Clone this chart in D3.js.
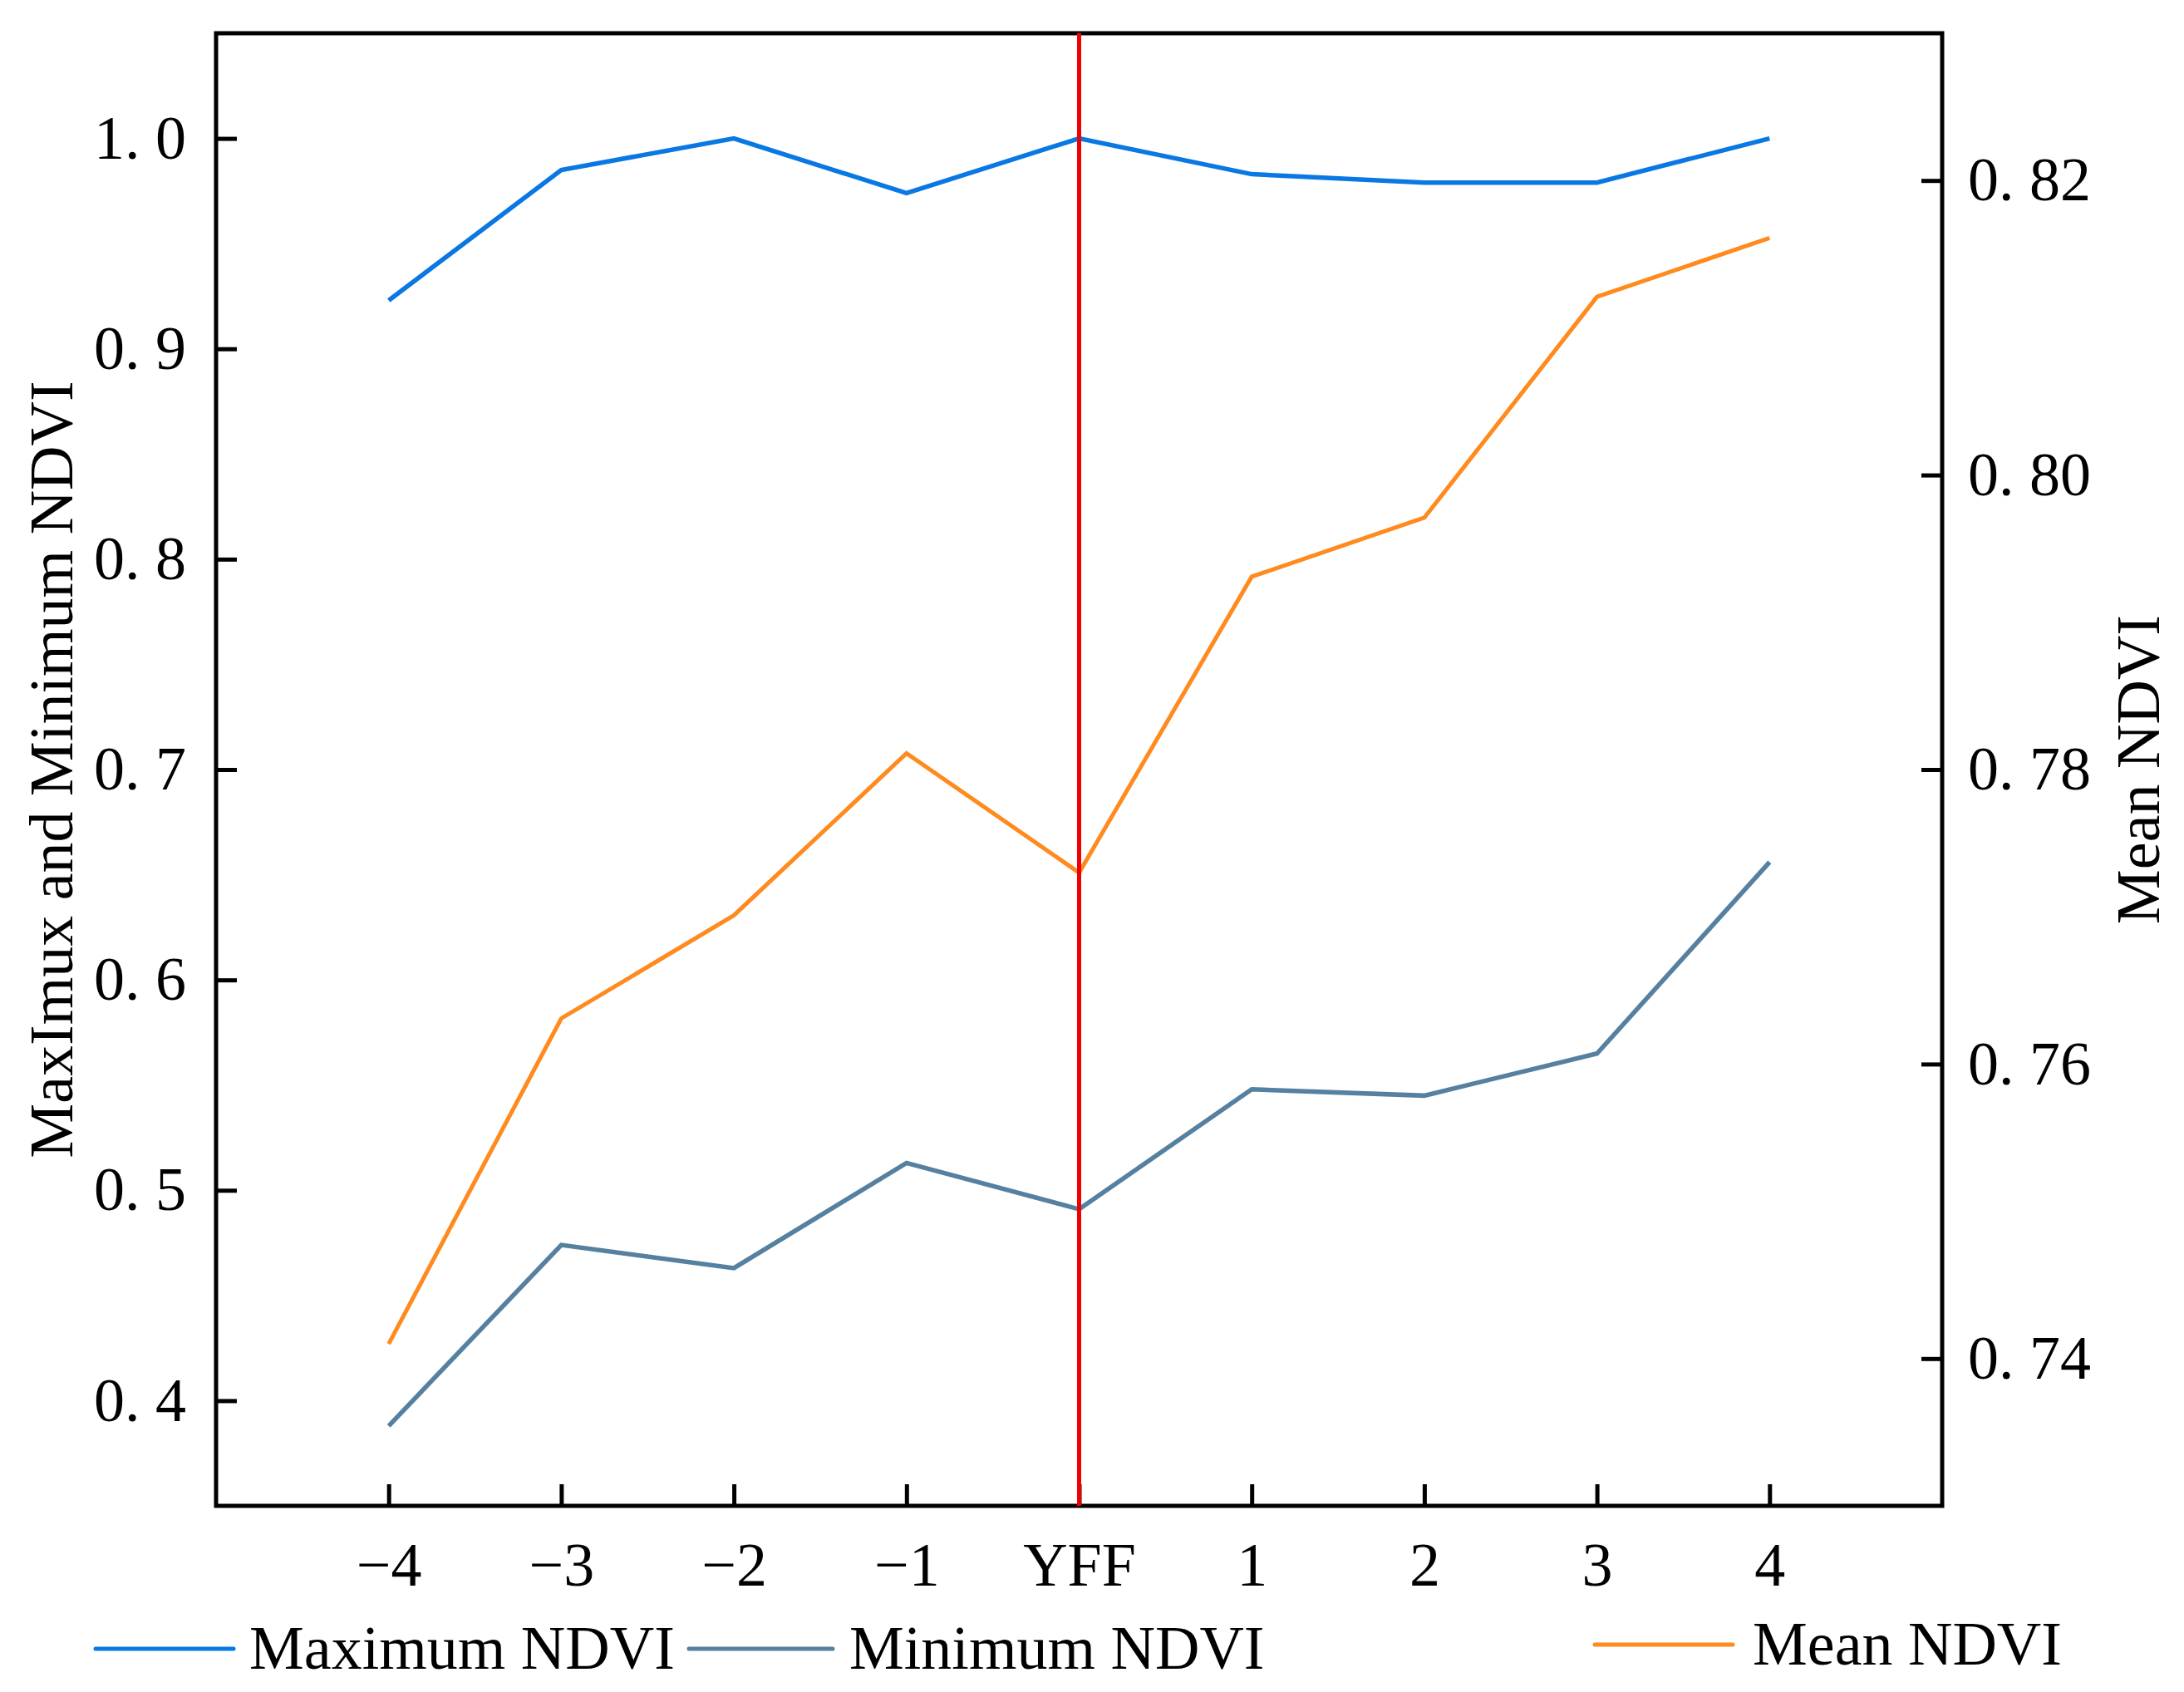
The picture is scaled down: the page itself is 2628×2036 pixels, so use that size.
<!DOCTYPE html>
<html>
<head>
<meta charset="utf-8">
<script src="https://d3js.org/d3.v7.min.js"></script>
<style>
  body { margin: 0; background: #fff; }
  text { font-family: "Liberation Serif", "Times New Roman", serif; fill: #000; }
</style>
</head>
<body>
<script>
// data
var years = [-4, -3, -2, -1, 0, 1, 2, 3, 4];
var yearLabels = ["\u22124", "\u22123", "\u22122", "\u22121", "YFF", "1", "2", "3", "4"];
var maxNdvi = [0.923, 0.985, 1.0, 0.974, 1.0, 0.983, 0.979, 0.979, 1.0];
var minNdvi = [0.388, 0.474, 0.463, 0.513, 0.491, 0.548, 0.545, 0.565, 0.656];
var meanNdvi = [0.741, 0.7631, 0.7701, 0.7811, 0.7730, 0.7931, 0.7971, 0.8121, 0.8161];
var leftTicks = [0.4, 0.5, 0.6, 0.7, 0.8, 0.9, 1.0];
var rightTicks = [0.74, 0.76, 0.78, 0.80, 0.82];
var legendNames = ["Maximum NDVI", "Minimum NDVI", "Mean NDVI"];
var colors = ["#0a78e2", "#5680a0", "#ff8a1e"];

var W = 2628, H = 2036;
var margin = {top: 40, left: 260, right: 291, bottom: 224};

var svg = d3.select("body").append("svg")
  .attr("width", W)
  .attr("height", H);

var x = d3.scaleLinear().domain([-5, 5]).range([margin.left, W - margin.right]);
var yL = d3.scaleLinear().domain([0.35, 1.05]).range([H - margin.bottom, margin.top]);
var yR = d3.scaleLinear().domain([0.73, 0.83]).range([H - margin.bottom, margin.top]);

var fs = 74;
var dotFmt = function(f) { return function(d) { return d3.format(f)(d).replace(".", ". "); }; };

// bottom axis, ticks pointing in
var xAx = d3.axisBottom(x)
  .tickValues(years)
  .tickFormat(function(d, i) { return yearLabels[i]; })
  .tickSizeInner(-26).tickSizeOuter(0).tickPadding(43);
var gx = svg.append("g")
  .attr("transform", "translate(0," + (H - margin.bottom) + ")")
  .call(xAx);

var yAxL = d3.axisLeft(yL)
  .tickValues(leftTicks)
  .tickFormat(dotFmt(".1f"))
  .tickSizeInner(-25).tickSizeOuter(0).tickPadding(36);
var gyl = svg.append("g")
  .attr("transform", "translate(" + margin.left + ",0)")
  .call(yAxL);

var yAxR = d3.axisRight(yR)
  .tickValues(rightTicks)
  .tickFormat(dotFmt(".2f"))
  .tickSizeInner(-25).tickSizeOuter(0).tickPadding(31);
var gyr = svg.append("g")
  .attr("transform", "translate(" + (W - margin.right) + ",0)")
  .call(yAxR);

[gx, gyl, gyr].forEach(function(g) {
  g.select(".domain").remove();
  g.selectAll(".tick line").attr("stroke", "#000").attr("stroke-width", 5);
  g.selectAll(".tick text")
    .style("font-family", "'Liberation Serif', 'Times New Roman', serif")
    .style("font-size", fs + "px")
    .attr("fill", "#000");
});

// frame
svg.append("rect")
  .attr("x", margin.left)
  .attr("y", margin.top)
  .attr("width", W - margin.left - margin.right)
  .attr("height", H - margin.top - margin.bottom)
  .attr("fill", "none")
  .attr("stroke", "#000")
  .attr("stroke-width", 5);

// series
var lineL = d3.line().x(function(d, i) { return x(years[i]); }).y(function(d) { return yL(d); });
var lineR = d3.line().x(function(d, i) { return x(years[i]); }).y(function(d) { return yR(d); });

svg.append("path").datum(maxNdvi).attr("d", lineL)
  .attr("fill", "none").attr("stroke", colors[0]).attr("stroke-width", 5.5);
svg.append("path").datum(minNdvi).attr("d", lineL)
  .attr("fill", "none").attr("stroke", colors[1]).attr("stroke-width", 5.5);
svg.append("path").datum(meanNdvi).attr("d", lineR)
  .attr("fill", "none").attr("stroke", colors[2]).attr("stroke-width", 5);

// red line at YFF
svg.append("line")
  .attr("x1", x(0)).attr("x2", x(0))
  .attr("y1", margin.top).attr("y2", H - margin.bottom)
  .attr("stroke", "#f00000").attr("stroke-width", 5);

// axis titles
svg.append("text")
  .attr("transform", "translate(87," + ((margin.top + H - margin.bottom) / 2) + ") rotate(-90)")
  .attr("text-anchor", "middle")
  .style("font-size", fs + "px")
  .text("MaxImux and Minimum NDVI");
svg.append("text")
  .attr("transform", "translate(2598," + ((margin.top + H - margin.bottom) / 2) + ") rotate(-90)")
  .attr("text-anchor", "middle")
  .style("font-size", fs + "px")
  .text("Mean NDVI");

// legend
var legendPos = [
  {x1: 115, x2: 281, ly: 1984, tx: 300, ty: 2008},
  {x1: 829, x2: 1002, ly: 1984, tx: 1022, ty: 2008},
  {x1: 1919, x2: 2085, ly: 1979, tx: 2109, ty: 2003}
];
var lg = svg.append("g").selectAll("g")
  .data(legendNames)
  .enter().append("g");
lg.append("line")
  .attr("x1", function(d, i) { return legendPos[i].x1; })
  .attr("x2", function(d, i) { return legendPos[i].x2; })
  .attr("y1", function(d, i) { return legendPos[i].ly; })
  .attr("y2", function(d, i) { return legendPos[i].ly; })
  .attr("stroke", function(d, i) { return colors[i]; })
  .attr("stroke-width", 5)
  .attr("stroke-linecap", "round");
lg.append("text")
  .attr("x", function(d, i) { return legendPos[i].tx; })
  .attr("y", function(d, i) { return legendPos[i].ty; })
  .style("font-size", fs + "px")
  .text(function(d) { return d; });
</script>
</body>
</html>
